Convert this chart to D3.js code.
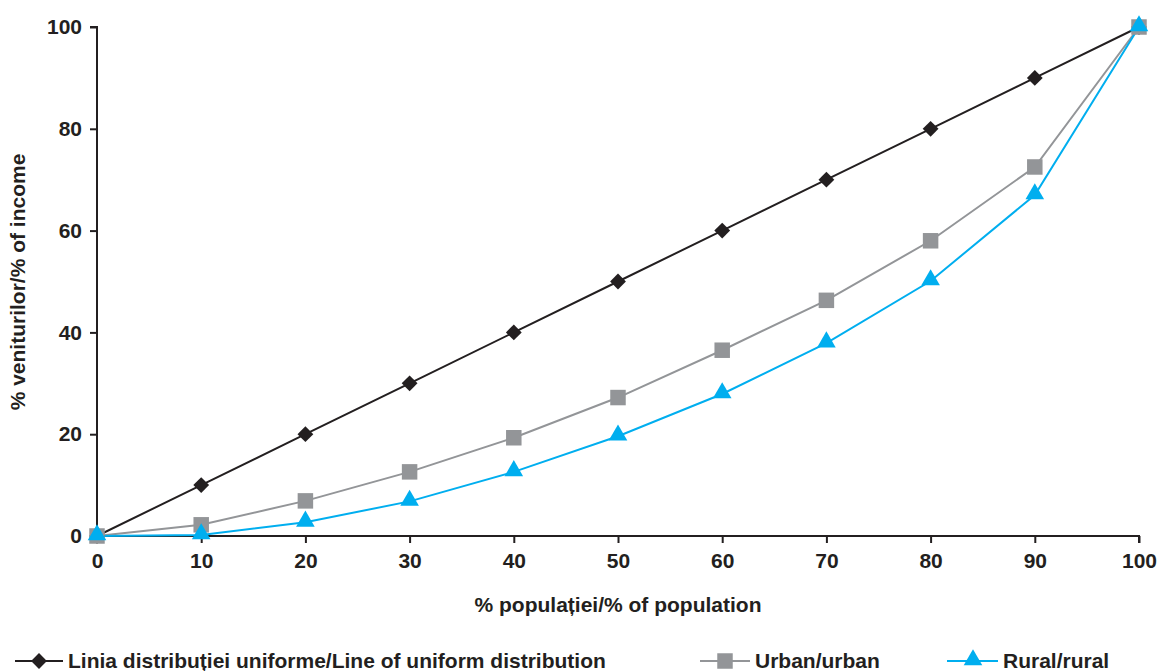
<!DOCTYPE html>
<html><head><meta charset="utf-8">
<script src="https://cdn.jsdelivr.net/npm/d3@7"></script>
<style>body{margin:0;background:#fff}svg{display:block}text{font-family:"Liberation Sans",Arial,sans-serif;font-weight:bold;fill:#231f20}</style>
</head><body><svg id="c" width="1159" height="671"></svg>
<script>
const xVals = [0,10,20,30,40,50,60,70,80,90,100];
const uniform = [0,10,20,30,40,50,60,70,80,90,100];
const urban = [0,2.2,6.9,12.6,19.3,27.2,36.5,46.3,58,72.5,100];
const rural = [0,0.2,2.7,6.8,12.6,19.6,27.9,37.9,50.1,67,100];
const xTicks = [0,10,20,30,40,50,60,70,80,90,100];
const yTicks = [0,20,40,60,80,100];
const seriesNames = ["Linia distribuției uniforme/Line of uniform distribution","Urban/urban","Rural/rural"];
const colors = ["#231f20","#939598","#00aeef"];
const symbols = [d3.symbolSquare, d3.symbolSquare, d3.symbolTriangle];
const rotations = [45, 0, 0];
const FS = "21px";

const svg = d3.select("#c");
const x = d3.scaleLinear().domain([0,100]).range([97,1139]);
const y = d3.scaleLinear().domain([0,100]).range([536,27]);

const xa = svg.append("g").attr("transform","translate(0,536)")
  .call(d3.axisBottom(x).tickValues(xTicks).tickSize(7).tickSizeOuter(7).tickPadding(10));
const ya = svg.append("g").attr("transform","translate(97,0)")
  .call(d3.axisLeft(y).tickValues(yTicks).tickSize(7).tickSizeOuter(7).tickPadding(8));
[xa,ya].forEach(a=>{
  a.selectAll("path,line").attr("stroke","#231f20").attr("stroke-width",2);
  a.selectAll("text").style("font-size",FS).attr("fill","#231f20");
});
xa.select(".domain").attr("d","M97,0H1139V7");
ya.select(".domain").attr("d","M-7,27H0V536");

svg.append("text").attr("x",618).attr("y",612).attr("text-anchor","middle").style("font-size",FS).text("% populației/% of population");
svg.append("text").attr("transform","translate(25,282) rotate(-90)").attr("text-anchor","middle").style("font-size",FS).text("% veniturilor/% of income");

const data = [uniform, urban, rural];
const sizes = [125, 240, 150];
const line = d3.line().x((d,i)=>x(xVals[i])).y(d=>y(d));
data.forEach((s,k)=>{
  svg.append("path").attr("d",line(s)).attr("fill","none").attr("stroke",colors[k]).attr("stroke-width",2);
});
data.forEach((s,k)=>{
  svg.append("g").selectAll("path").data(s).join("path")
    .attr("transform",(d,i)=>`translate(${x(xVals[i])},${y(d)+(k===2?-1:0)}) rotate(${rotations[k]})`)
    .attr("d",d3.symbol().type(symbols[k]).size(sizes[k]))
    .attr("fill",colors[k]);
});

const legLine = [[15,63],[700,750],[947,998]];
const legMark = [39,725,973];
const legText = [68,755,1003];
const lg = svg.append("g");
seriesNames.forEach((n,k)=>{
  lg.append("line").attr("x1",legLine[k][0]).attr("x2",legLine[k][1]).attr("y1",661).attr("y2",661).attr("stroke",colors[k]).attr("stroke-width",2);
  lg.append("path").attr("transform",`translate(${legMark[k]},${661+(k===2?-1:0)}) rotate(${rotations[k]})`).attr("d",d3.symbol().type(symbols[k]).size(sizes[k])).attr("fill",colors[k]);
  lg.append("text").attr("x",legText[k]).attr("y",668).style("font-size",FS).text(n);
});
</script></body></html>
